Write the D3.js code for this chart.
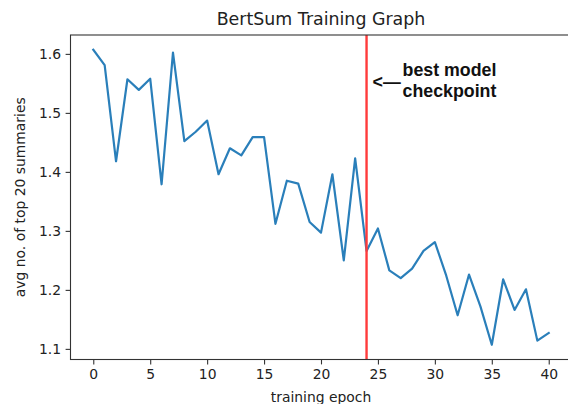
<!DOCTYPE html>
<html>
<head>
<meta charset="utf-8">
<script src="https://cdn.jsdelivr.net/npm/d3@7"></script>
<style>
  body { margin: 0; background: #fff; }
  svg { display: block; }
</style>
</head>
<body>
<svg id="chart" width="568" height="404"></svg>
<script>
const epochs = d3.range(0, 41);
const avgTop20 = [
  1.607, 1.581, 1.418, 1.557, 1.539, 1.558, 1.379, 1.602, 1.452, 1.468,
  1.487, 1.396, 1.440, 1.428, 1.459, 1.459, 1.312, 1.385, 1.380, 1.315,
  1.297, 1.396, 1.250, 1.423, 1.266, 1.304, 1.233, 1.220, 1.236, 1.266,
  1.281, 1.224, 1.157, 1.226, 1.172, 1.107, 1.218, 1.166, 1.201, 1.114,
  1.127
];
const xTicks = [0, 5, 10, 15, 20, 25, 30, 35, 40];
const yTicks = [1.1, 1.2, 1.3, 1.4, 1.5, 1.6];
const bestEpoch = [24];
const titleText = "BertSum Training Graph";
const xLabel = "training epoch";
const yLabel = "avg no. of top 20 summaries";
const noteArrow = "<\u2014";
const noteLines = ["best model", "checkpoint"];

const W = 568, H = 404;
const m = { left: 70.5, top: 35, right: 571.5, bottom: 359.5 };

const svg = d3.select("#chart");
const x = d3.scaleLinear().domain([-2, 42]).range([m.left, m.right]);
const yMin = d3.min(avgTop20), yMax = d3.max(avgTop20);
const pad = (yMax - yMin) * 0.05;
const y = d3.scaleLinear().domain([yMin - pad, yMax + pad]).range([m.bottom, m.top]);

const font = "'DejaVu Sans', sans-serif";

// line
const line = d3.line().x((d, i) => x(epochs[i])).y(d => y(d));
svg.append("path")
  .datum(avgTop20)
  .attr("d", line)
  .attr("fill", "none")
  .attr("stroke", "#2a7fba")
  .attr("stroke-width", 2.2)
  .attr("stroke-linejoin", "round")
  .attr("stroke-linecap", "square");

// red vertical line
svg.selectAll(".vline").data(bestEpoch).enter().append("line")
  .attr("x1", d => x(d)).attr("x2", d => x(d))
  .attr("y1", m.top).attr("y2", m.bottom)
  .attr("stroke", "#ff3b3b")
  .attr("stroke-width", 2.4);

// axes
const xAxis = d3.axisBottom(x).tickValues(xTicks).tickSize(4.9).tickPadding(4.5).tickFormat(d3.format("d"));
const yAxis = d3.axisLeft(y).tickValues(yTicks).tickSize(4.9).tickPadding(4.5).tickFormat(d3.format(".1f"));

const gx = svg.append("g").attr("transform", `translate(0,${m.bottom})`).call(xAxis);
const gy = svg.append("g").attr("transform", `translate(${m.left},0)`).call(yAxis);
[gx, gy].forEach(g => {
  g.select(".domain").remove();
  g.selectAll(".tick line").attr("stroke", "#333").attr("stroke-width", 1.1);
  g.selectAll(".tick text").attr("fill", "#222").style("font-family", font).style("font-size", "13.9px");
});

// spines
svg.append("rect")
  .attr("x", m.left).attr("y", m.top)
  .attr("width", m.right - m.left).attr("height", m.bottom - m.top)
  .attr("fill", "none").attr("stroke", "#333").attr("stroke-width", 1.1);

// title
svg.append("text")
  .attr("x", (m.left + m.right) / 2).attr("y", 25)
  .attr("text-anchor", "middle")
  .style("font-family", font).style("font-size", "17.4px").attr("fill", "#222")
  .text(titleText);

// axis labels
svg.append("text")
  .attr("x", (m.left + m.right) / 2).attr("y", 402)
  .attr("text-anchor", "middle")
  .style("font-family", font).style("font-size", "13.9px").attr("fill", "#222")
  .text(xLabel);

svg.append("text")
  .attr("transform", `translate(25,${(m.top + m.bottom) / 2}) rotate(-90)`)
  .attr("text-anchor", "middle")
  .style("font-family", font).style("font-size", "13.9px").attr("fill", "#222")
  .text(yLabel);

// annotation
const bold = "'Liberation Sans', Arial, sans-serif";
const ax = x(bestEpoch[0]);
svg.append("text")
  .attr("x", ax + 6).attr("y", 88)
  .style("font-family", bold).style("font-weight", "bold").style("font-size", "17.8px").attr("fill", "#111")
  .text(noteArrow);
svg.selectAll(".note").data(noteLines).enter().append("text")
  .attr("x", ax + 36).attr("y", (d, i) => 76 + i * 21)
  .style("font-family", bold).style("font-weight", "bold").style("font-size", "17.8px").attr("fill", "#111")
  .text(d => d);
</script>
</body>
</html>
